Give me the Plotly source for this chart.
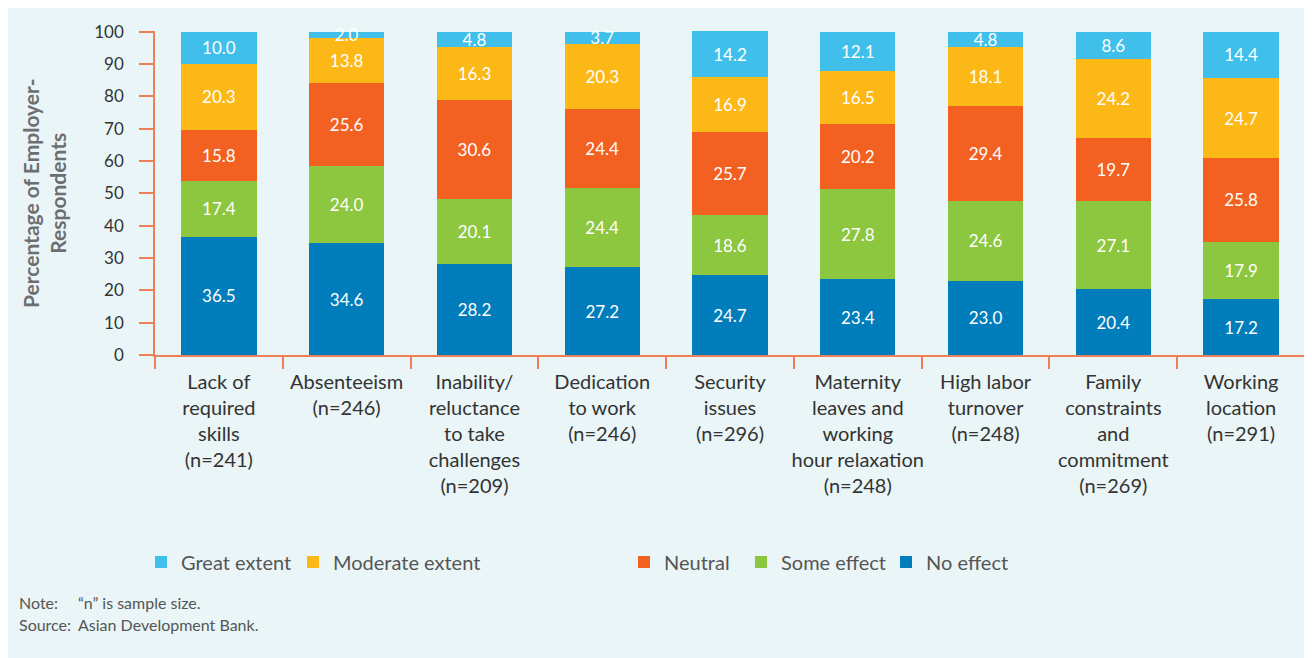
import plotly.graph_objects as go

categories = ["Lack of<br>required<br>skills", "Absenteeism", "Inability/<br>reluctance<br>to take<br>challenges",
              "Dedication<br>to work", "Security<br>issues", "Maternity<br>leaves and<br>working<br>hour relaxation",
              "High labor<br>turnover", "Family<br>constraints<br>and<br>commitment", "Working<br>location"]
sample_sizes = [241, 246, 209, 246, 296, 248, 248, 269, 291]

no_effect = [36.5, 34.6, 28.2, 27.2, 24.7, 23.4, 23.0, 20.4, 17.2]
some_effect = [17.4, 24.0, 20.1, 24.4, 18.6, 27.8, 24.6, 27.1, 17.9]
neutral = [15.8, 25.6, 30.6, 24.4, 25.7, 20.2, 29.4, 19.7, 25.8]
moderate_extent = [20.3, 13.8, 16.3, 20.3, 16.9, 16.5, 18.1, 24.2, 24.7]
great_extent = [10.0, 2.0, 4.8, 3.7, 14.2, 12.1, 4.8, 8.6, 14.4]

labels = [f"{c}<br>(n={n})" for c, n in zip(categories, sample_sizes)]

series = [
    ("No effect", no_effect, "#007dba", "legend5"),
    ("Some effect", some_effect, "#8dc63f", "legend4"),
    ("Neutral", neutral, "#f26122", "legend3"),
    ("Moderate extent", moderate_extent, "#fcb817", "legend2"),
    ("Great extent", great_extent, "#41bfeb", "legend"),
]

OFF = 8  # default page body margin
W, H = 1304, 650
L, R, T, B = 147, 7, 23, 303
PW, PH = W - L - R, H - T - B

def px(x):
    return (x - OFF - L) / PW

def py(y):
    return (H - B - (y - OFF)) / PH

FONT = "Lato"
fig = go.Figure()
for name, vals, color, lg in series:
    fig.add_trace(go.Bar(
        x=labels, y=vals, name=name, marker_color=color, marker_line_width=0,
        text=[f"{v:.1f}" for v in vals], textposition="inside", insidetextanchor="middle",
        textangle=0, constraintext="none", cliponaxis=False,
        textfont=dict(color="white", size=17, family=FONT), legend=lg,
        hoverinfo="skip",
    ))

legend_text_x = {"legend": 183, "legend2": 335, "legend3": 666, "legend4": 783, "legend5": 928}
legend_cfg = {}
for lg, tx in legend_text_x.items():
    legend_cfg[lg] = dict(x=px(tx - 42), xanchor="left", y=py(562), yanchor="middle",
                          orientation="h", bgcolor="rgba(0,0,0,0)",
                          font=dict(size=20, color="#555555", family=FONT))

fig.update_layout(
    width=W, height=H, barmode="stack", bargap=0.41,
    margin=dict(l=L, r=R, t=T, b=B),
    paper_bgcolor="#eaf5f7", plot_bgcolor="#eaf5f7",
    font=dict(family=FONT, color="#333333"),
    showlegend=True,
    **legend_cfg,
)
fig.update_yaxes(
    range=[0, 100.2], tickvals=list(range(0, 101, 10)), showgrid=False, zeroline=False,
    showline=True, linecolor="#ee7f58", linewidth=1.5,
    ticks="outside", ticklen=14, tickcolor="#ee7f58", tickwidth=1.5,
    ticklabelstandoff=12, tickfont=dict(size=17, color="#333333", family=FONT),
)
fig.update_xaxes(
    showgrid=False, showline=True, linecolor="#ee7f58", linewidth=1.5,
    ticks="outside", ticklen=12, tickcolor="#ee7f58", tickwidth=1.5,
    tickson="boundaries", tickangle=0, ticklabelstandoff=8,
    tickfont=dict(size=20, color="#333333", family=FONT),
)

fig.add_annotation(
    text="<b>Percentage of Employer-<br>Respondents</b>", textangle=-90,
    xref="paper", yref="paper", x=px(44), y=0.5, xanchor="center", yanchor="middle",
    showarrow=False, font=dict(size=21, color="#6d6e71", family=FONT),
)
notes = [("Note:", "\u201cn\u201d is sample size.", 602), ("Source:", "Asian Development Bank.", 624)]
for lab, txt, y in notes:
    fig.add_annotation(text=lab, xref="paper", yref="paper", x=px(17), y=py(y),
                       xanchor="left", yanchor="middle", showarrow=False,
                       font=dict(size=16, color="#555555", family=FONT))
    fig.add_annotation(text=txt, xref="paper", yref="paper", x=px(76), y=py(y),
                       xanchor="left", yanchor="middle", showarrow=False,
                       font=dict(size=16, color="#555555", family=FONT))

fig.write_html("out.html")
